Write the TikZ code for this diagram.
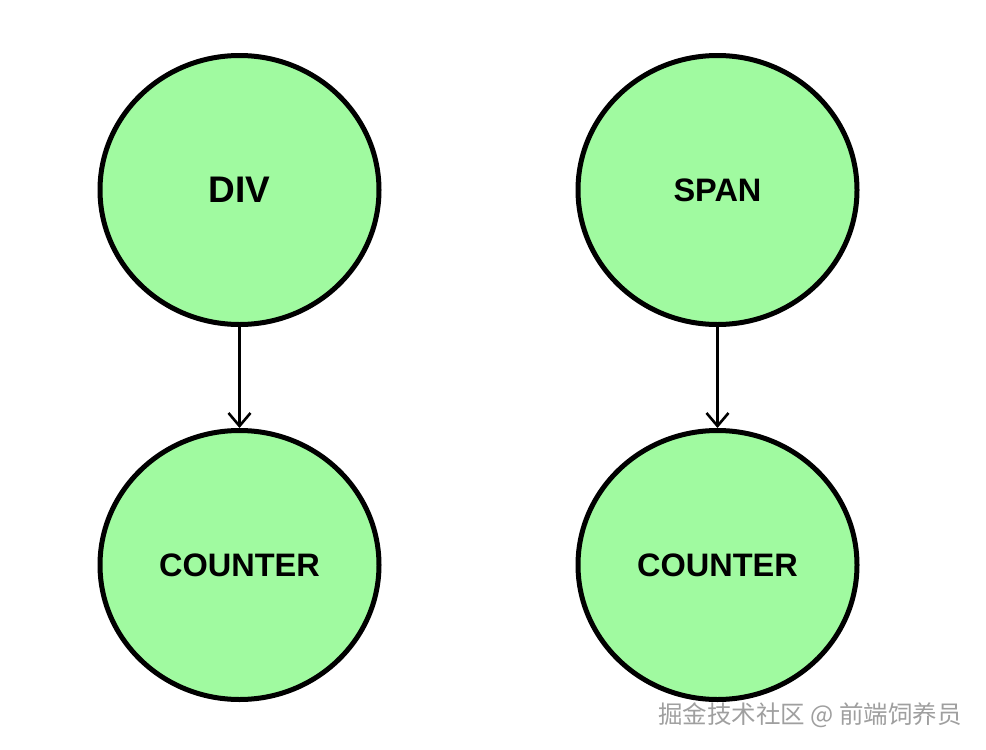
\documentclass[tikz,border=0pt]{standalone}
\usepackage{fontspec}
\setmainfont{Liberation Sans}
\newfontfamily\cjk{Noto Sans CJK SC}
\usetikzlibrary{arrows.meta,positioning,shapes.geometric}
\definecolor{nodegreen}{RGB}{160,250,160}

\begin{document}
\begin{tikzpicture}[
  x=1pt, y=1pt,
  node distance=101pt and 194pt,
  comp/.style={draw, ellipse, fill=nodegreen, line width=5pt, minimum width=279pt, minimum height=269pt, inner sep=0pt, align=center, font=\fontsize{32.5}{32.5}\selectfont\bfseries},
  flow/.style={-{Straight Barb[length=13pt, width=22pt, line width=2.6pt]}, line width=2.6pt}
]
\useasboundingbox (0,0) rectangle (986,-750);
\node[comp] (div) at (239.5,-190) {\fontsize{37}{37}\selectfont DIV};
\node[comp, below=of div] (divcounter) {COUNTER};
\node[comp, right=of div] (span) {SPAN};
\node[comp, below=of span] (spancounter) {COUNTER};
\node[text=gray!75, font=\cjk\fontsize{24.5}{24.5}\selectfont] (mark) at (810,-715) {掘金技术社区 @ 前端饲养员};
\draw[flow] (div) -- (divcounter);
\draw[flow] (span) -- (spancounter);
\end{tikzpicture}
\end{document}
